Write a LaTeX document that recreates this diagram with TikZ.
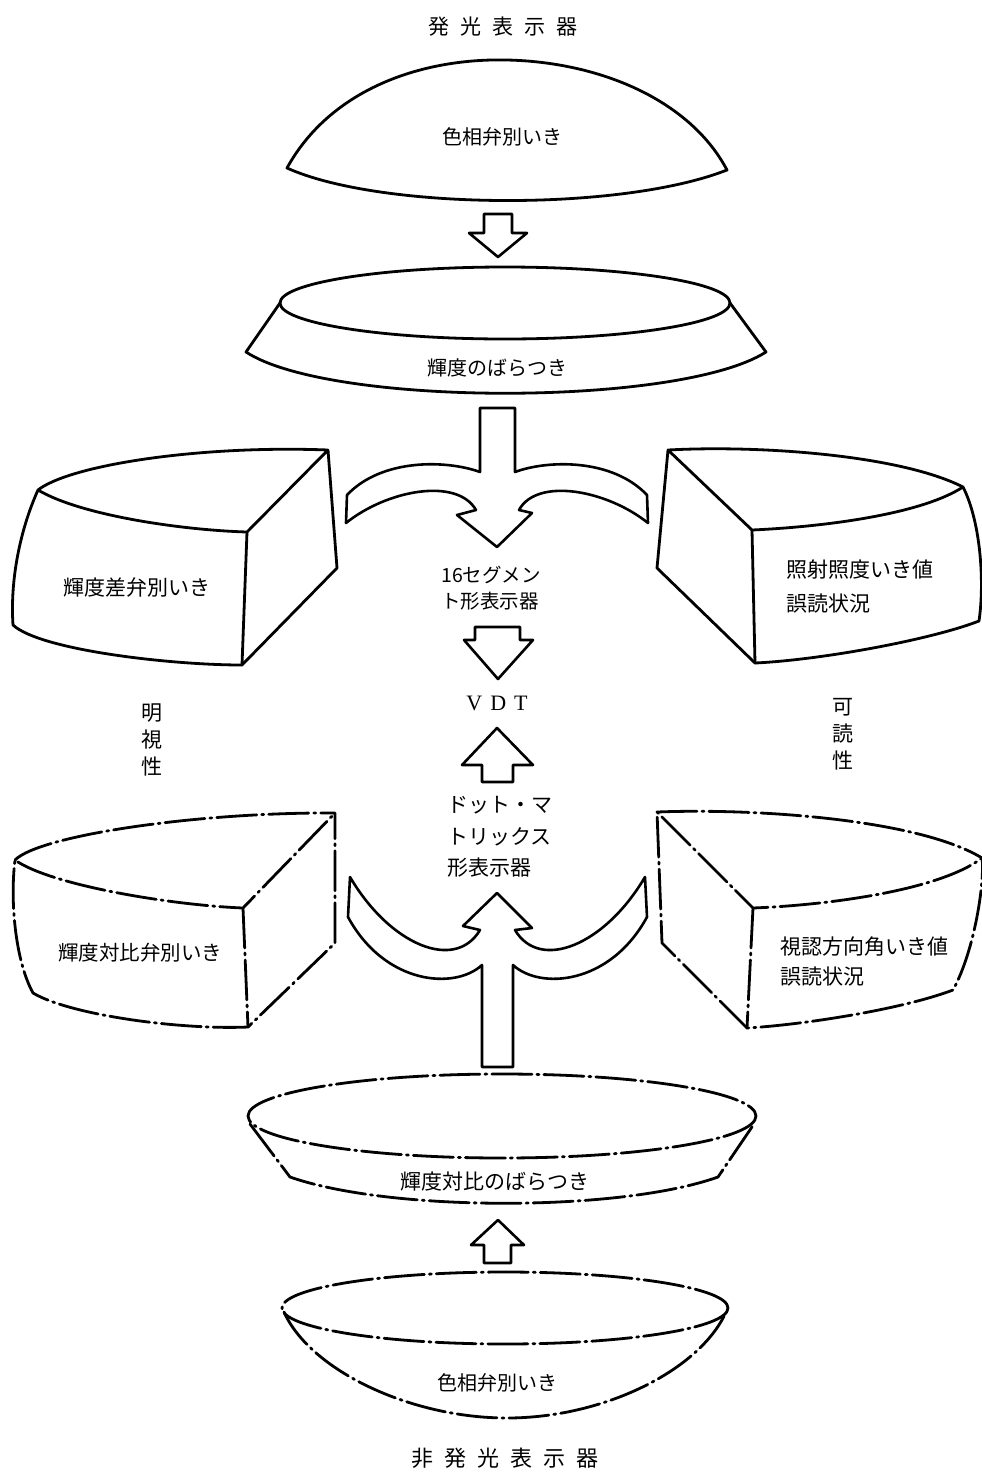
\documentclass[tikz,border=0pt]{standalone}
\usepackage{fontspec}
\newfontfamily\jp{Noto Sans CJK JP}
\newfontfamily\latinserif{Liberation Serif}
\begin{document}
\begin{tikzpicture}[x=1pt,y=-1pt,
  solidline/.style={line width=2.8pt, line join=round, line cap=round},
  dashdot/.style={line width=2.8pt, line join=round, line cap=round,
    dash pattern=on 40pt off 5pt on 2pt off 5pt},
  blockarrow/.style={line width=2.6pt, line join=round},
  txt/.style={font=\jp\fontsize{20}{26}\selectfont, inner sep=0pt},
]
\useasboundingbox (0,0) rectangle (982,1476);

% ---------- captions ----------
\node[txt, font=\jp\fontsize{21}{26}\selectfont] (title) at (503,27)
  {発\kern11pt 光\kern11pt 表\kern11pt 示\kern11pt 器};
\node[txt, font=\jp\fontsize{22}{26}\selectfont] (caption) at (505,1458)
  {非\kern11pt 発\kern11pt 光\kern11pt 表\kern11pt 示\kern11pt 器};

% ---------- top dome ----------
\draw[solidline] (287,168) .. controls (330,90) and (420,58) .. (507,60)
  .. controls (600,62) and (690,100) .. (727,170)
  .. controls (620,212) and (380,210) .. cycle;
\node[txt] (hue1) at (502,137) {色相弁別いき};

% small arrow down
\draw[blockarrow] (484,214) -- (512,214) -- (512,233) -- (527,233) -- (498,257)
  -- (469,233) -- (484,233) -- cycle;

% ---------- luminance disk ----------
\draw[solidline] (505,303) ellipse [x radius=225, y radius=36];
\draw[solidline] (280,303) -- (246,352)
  .. controls (330,407) and (680,407) .. (766,352) -- (730,303);
\node[txt] (lumvar) at (497,368) {輝度のばらつき};

% ---------- upper merging arrow ----------
\draw[blockarrow] (480,408) -- (515,408) -- (515,472)
  .. controls (547,460) and (612,458) .. (647,495)
  -- (648,523)
  .. controls (607,490) and (537,477) .. (519,510)
  -- (532,513) -- (497,547) -- (457,515) -- (476,510)
  .. controls (457,477) and (387,490) .. (346,523)
  -- (347,495)
  .. controls (382,458) and (447,460) .. (480,472) -- cycle;

\node[txt, font=\jp\fontsize{19.5}{26}\selectfont, align=left] (seg16) at (491,588)
  {16セグメン\\ト形表示器};

% stubby arrow down
\draw[blockarrow] (475,627) -- (520,627) -- (520,640) -- (533,640) -- (498,679)
  -- (464,640) -- (475,640) -- cycle;

\node[inner sep=0pt, font=\latinserif\fontsize{22}{24}\selectfont] (vdt) at (497,703)
  {V\kern8pt D\kern8pt T};

% arrow up
\draw[blockarrow] (497,728) -- (533,765) -- (513,765) -- (513,782) -- (482,782)
  -- (482,765) -- (462,765) -- cycle;

\node[txt, font=\jp\fontsize{21}{31.5}\selectfont, align=left] (dotm) at (500,837)
  {ドット・マ\\トリックス\\形表示器};

% ---------- lower merging arrow ----------
\draw[blockarrow] (482,1067) -- (482,965)
  .. controls (455,990) and (385,985) .. (348,917)
  -- (350,877)
  .. controls (390,945) and (455,972) .. (480,930)
  -- (463,926) -- (497,893) -- (532,928) -- (515,930)
  .. controls (540,972) and (605,945) .. (645,877)
  -- (647,917)
  .. controls (610,985) and (540,990) .. (513,965)
  -- (513,1067) -- cycle;

% ---------- side boxes, upper ----------
% left: luminance difference threshold
\draw[solidline] (38,490) .. controls (70,465) and (200,445) .. (328,450)
  -- (337,568) -- (242,665)
  .. controls (170,665) and (40,650) .. (13,625)
  .. controls (10,580) and (20,530) .. (38,490)
  .. controls (80,515) and (180,530) .. (247,532) -- (328,450);
\draw[solidline] (247,532) -- (242,665);
\node[txt, font=\jp\fontsize{21}{26}\selectfont] (lumdiff) at (137,587) {輝度差弁別いき};

% right: illuminance threshold
\draw[solidline] (668,450) .. controls (760,445) and (900,455) .. (963,487)
  .. controls (980,520) and (985,580) .. (979,621)
  .. controls (930,640) and (820,660) .. (755,663)
  -- (657,568) -- (668,450) -- (752,530)
  .. controls (820,527) and (920,515) .. (963,487);
\draw[solidline] (752,530) -- (755,663);
\node[txt, font=\jp\fontsize{21}{34}\selectfont, align=left] (illum) at (860,587)
  {照射照度いき値\\誤読状況};

% vertical labels
\node[txt, font=\jp\fontsize{21}{27}\selectfont, align=center] (visib) at (152,740)
  {明\\視\\性};
\node[txt, font=\jp\fontsize{21}{27}\selectfont, align=center] (legib) at (843,734)
  {可\\読\\性};

% ---------- side boxes, lower ----------
% left: luminance contrast threshold
\draw[dashdot] (15,860) .. controls (40,835) and (200,812) .. (335,813)
  -- (335,943) -- (248,1027)
  .. controls (180,1030) and (70,1015) .. (33,993)
  .. controls (15,960) and (10,900) .. (15,860)
  .. controls (50,885) and (170,905) .. (243,908) -- (335,813);
\draw[dashdot] (243,908) -- (248,1027);
\node[txt, font=\jp\fontsize{20.5}{26}\selectfont] (contrast) at (140,953) {輝度対比弁別いき};

% right: viewing angle threshold
\draw[dashdot] (657,812) .. controls (760,808) and (920,820) .. (982,858)
  .. controls (985,880) and (975,950) .. (953,990)
  .. controls (900,1010) and (800,1025) .. (747,1028)
  -- (662,943) -- (657,812) -- (753,908)
  .. controls (830,905) and (940,890) .. (982,858);
\draw[dashdot] (753,908) -- (747,1028);
\node[txt, font=\jp\fontsize{21}{30}\selectfont, align=left] (angle) at (864,961)
  {視認方向角いき値\\誤読状況};

% ---------- contrast disk ----------
\draw[dashdot] (502,1116) ellipse [x radius=254, y radius=42];
\draw[dashdot] (250,1124) -- (290,1177)
  .. controls (390,1212) and (620,1212) .. (718,1177) -- (754,1124);
\node[txt, font=\jp\fontsize{21}{26}\selectfont] (convar) at (495,1182) {輝度対比のばらつき};

% small arrow up
\draw[blockarrow] (498,1220) -- (524,1245) -- (511,1245) -- (511,1263) -- (484,1263)
  -- (484,1245) -- (471,1245) -- cycle;

% ---------- bottom bowl ----------
\draw[dashdot] (505,1308) ellipse [x radius=223, y radius=36];
\draw[dashdot] (284,1312) .. controls (310,1370) and (410,1418) .. (507,1418)
  .. controls (604,1418) and (700,1370) .. (726,1312);
\node[txt] (hue2) at (497,1383) {色相弁別いき};

\end{tikzpicture}
\end{document}
